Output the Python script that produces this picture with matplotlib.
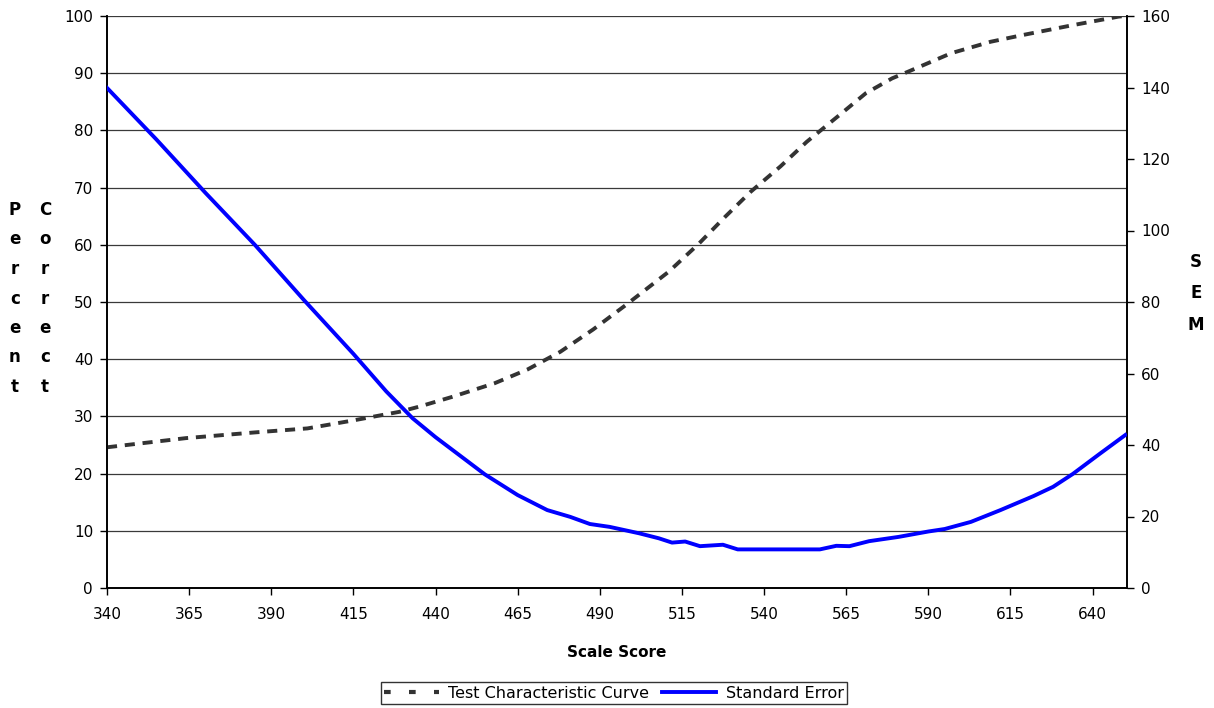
import matplotlib
matplotlib.use("Agg")
import matplotlib.pyplot as plt
from matplotlib.lines import Line2D

# Test Characteristic Curve (percent correct, left axis)
tcc_x = [340, 364, 385, 401, 415, 429, 435, 445, 458, 468, 478, 488, 498, 511,
         520, 528, 536, 545, 553, 563, 571, 579, 584, 597, 609, 619, 634, 648, 650]
tcc_y = [24.6, 26.2, 27.2, 27.9, 29.3, 30.8, 31.7, 33.4, 35.8, 38.2, 41.3, 45.2,
         49.5, 55.3, 60.1, 64.8, 69.3, 73.7, 78.0, 82.7, 86.5, 89.1, 90.3, 93.5,
         95.5, 96.7, 98.4, 99.9, 100.0]

# Standard error of measurement (right axis)
sem_x = [340, 355, 370, 385, 400, 415, 425, 433, 440, 455, 465, 474, 481, 487,
         493, 502, 508, 512, 516, 520.5, 527.5, 532, 557, 562, 566, 572, 581,
         590, 595, 603, 612, 622, 628, 634, 642, 650]
sem_y = [139.9, 125.5, 110.5, 96.0, 80.5, 65.5, 55.0, 47.5, 42.2, 31.8, 26.0,
         21.8, 19.9, 17.9, 17.1, 15.3, 13.9, 12.7, 13.0, 11.7, 12.1, 10.8, 10.8,
         11.8, 11.7, 13.1, 14.3, 15.8, 16.5, 18.5, 21.8, 25.7, 28.3, 31.9, 37.4,
         42.8]

x_ticks = [340, 365, 390, 415, 440, 465, 490, 515, 540, 565, 590, 615, 640]
left_ticks = list(range(0, 101, 10))
right_ticks = list(range(0, 161, 20))

plt.rcParams['font.family'] = ['DejaVu Sans']

fig = plt.figure(figsize=(12.14, 7.08), dpi=100)
ax = fig.add_axes([107/1214, 1-588/708, (1127-107)/1214, (588-16)/708])
ax2 = ax.twinx()

ax.set_xlim(340, 650.5)
ax.set_ylim(0, 100)
ax2.set_ylim(0, 160)

for v in left_ticks[1:]:
    ax.axhline(v, color='#3a3a3a', lw=0.9, zorder=1)

tcc_style = (0, (2.6, 2.0))
ax.plot(tcc_x, tcc_y, color='#333333', lw=2.8, linestyle=tcc_style, zorder=3)
ax2.plot(sem_x, sem_y, color='#0000ff', lw=2.8, zorder=3)

ax.set_xticks(x_ticks)
ax.set_yticks(left_ticks)
ax2.set_yticks(right_ticks)
ax.tick_params(axis='x', direction='out', length=5, width=1, labelsize=11, colors='black', pad=9)
ax.tick_params(axis='y', direction='out', length=5, width=1, labelsize=11, colors='black', pad=5)
ax2.tick_params(axis='y', direction='out', length=5, width=1, labelsize=11, colors='black', pad=5)

for a in (ax, ax2):
    a.spines['top'].set_visible(False)
    for s in ('left', 'right', 'bottom'):
        a.spines[s].set_color('black')
        a.spines[s].set_linewidth(1.2)

ax.set_xlabel('Scale Score', fontsize=11, fontweight='bold', labelpad=16)

# stacked vertical axis labels
for i, (c1, c2) in enumerate(zip('Percent', 'Correct')):
    y = 210 + i * 29.5
    fig.text(15/1214, 1 - y/708, c1, ha='center', va='center', fontsize=12, fontweight='bold')
    fig.text(45/1214, 1 - y/708, c2, ha='center', va='center', fontsize=12, fontweight='bold')
for i, c in enumerate('SEM'):
    y = 262 + i * 31.5
    fig.text(1196/1214, 1 - y/708, c, ha='center', va='center', fontsize=12, fontweight='bold')

handles = [Line2D([], [], color='#333333', lw=3.0, linestyle=(0, (1.6, 4.4))),
           Line2D([], [], color='#0000ff', lw=2.8)]
leg = fig.legend(handles, ['Test Characteristic Curve', 'Standard Error'],
                 loc='center', bbox_to_anchor=(614/1214, 1 - 693/708), ncol=2,
                 frameon=True, fancybox=False, edgecolor='black', fontsize=11.5,
                 handlelength=3.4, handletextpad=0.6, columnspacing=0.8,
                 borderpad=0.2, borderaxespad=0)
leg.get_frame().set_linewidth(1.0)

fig.savefig('out.png', dpi=100)
